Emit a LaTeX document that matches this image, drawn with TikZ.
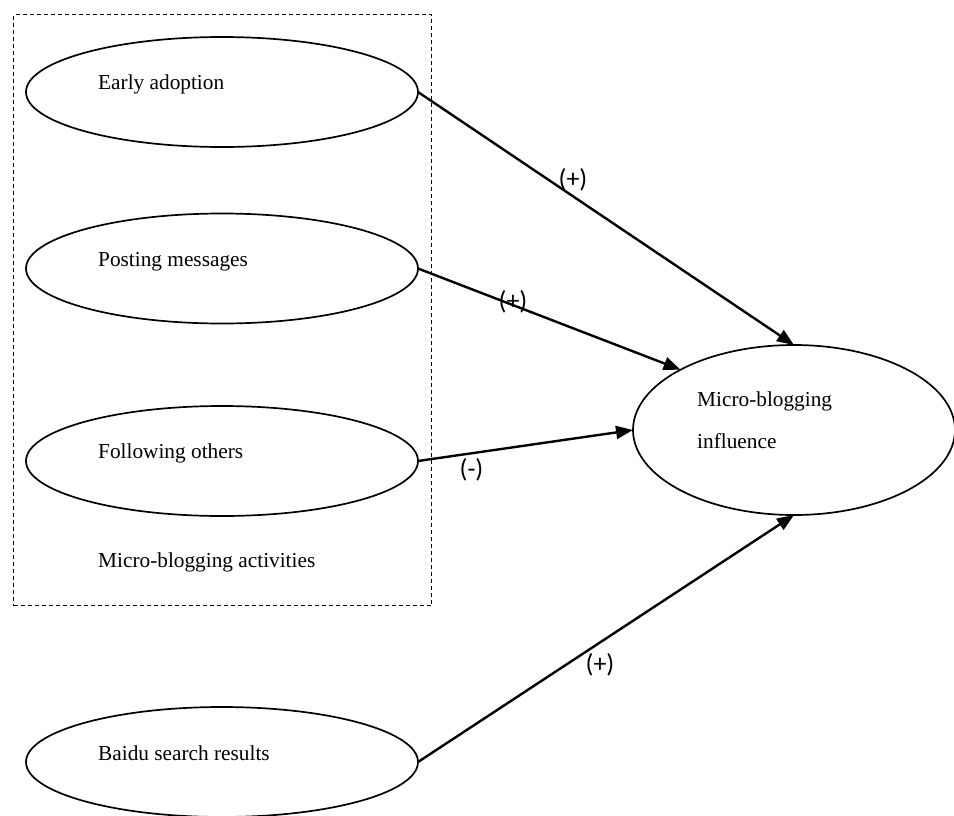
\documentclass[tikz,border=0pt]{standalone}
\usepackage{fontspec}
\setmainfont{Liberation Serif}
\newfontfamily\labelfont{Carlito}
\usetikzlibrary{shapes.geometric,arrows.meta}
\tikzset{
  oval/.style={ellipse, draw=black, line width=1.7pt, minimum width=392pt, minimum height=110pt, inner sep=0pt, outer sep=0pt},
  bigoval/.style={ellipse, draw=black, line width=1.7pt, minimum width=322pt, minimum height=170pt, inner sep=0pt, outer sep=0pt},
  txt/.style={anchor=base west, inner sep=0pt, font=\fontsize{21.3}{25}\selectfont},
  sign/.style={inner sep=0pt, font=\labelfont\fontsize{26}{30}\selectfont},
  link/.style={-{Triangle[length=17pt,width=13pt]}, line width=2.4pt, shorten >=0pt},
  group/.style={draw=black, dashed, dash pattern=on 4pt off 3pt, line width=1pt}
}
\begin{document}
\begin{tikzpicture}[x=1pt,y=-1pt]
\useasboundingbox (0,0) rectangle (954,815);
\node[group, minimum width=418pt, minimum height=591pt, inner sep=0pt, anchor=north west] (box) at (13,14) {};
\node[oval] (ea) at (222,92) {};
\node[oval] (pm) at (222,268.5) {};
\node[oval] (fo) at (222,461) {};
\node[oval] (bs) at (222,762) {};
\node[bigoval] (mi) at (794,430) {};
\node[txt] (tea) at (98,89) {Early adoption};
\node[txt] (tpm) at (98,266) {Posting messages};
\node[txt] (tfo) at (98,458) {Following others};
\node[txt] (tbs) at (98,760) {Baidu search results};
\node[txt] (tact) at (98,567) {Micro-blogging activities};
\node[txt] (tmi1) at (697,406) {Micro-blogging};
\node[txt] (tmi2) at (697,448) {influence};
\draw[link] (ea.east) -- (mi.north);
\draw[link] (pm.east) -- (mi.152);
\draw[link] (fo.east) -- (mi.west);
\draw[link] (bs.east) -- (mi.south);
\node[sign] (s1) at (573,180) {(+)};
\node[sign] (s2) at (513,301.5) {(+)};
\node[sign] (s3) at (471.5,469.5) {(-)};
\node[sign] (s4) at (600,664.5) {(+)};
\end{tikzpicture}
\end{document}
